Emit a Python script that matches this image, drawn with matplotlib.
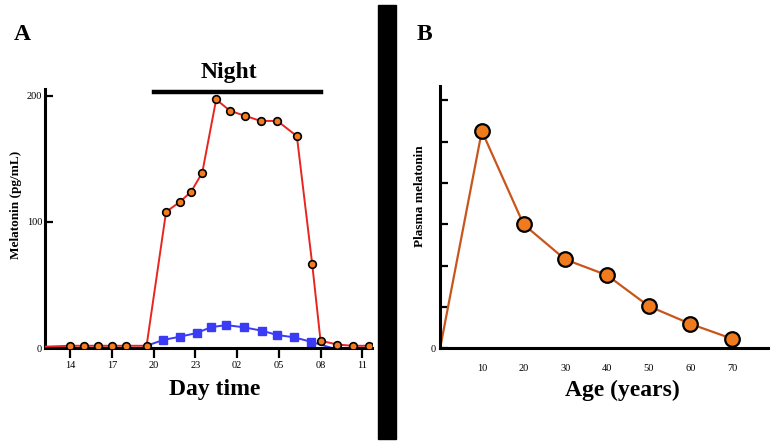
import matplotlib.pyplot as plt
import matplotlib.patches as mpatches

plt.rcParams['font.family'] = ['Liberation Serif', 'DejaVu Serif']

# DATA
# panel A: hours counted from 14:00 (24 = midnight)
red_hours = [14, 15, 16, 17, 18, 19.5, 20.9, 21.9, 22.7, 23.5, 24.5, 25.5, 26.6,
             27.7, 28.9, 30.3, 31.4, 32.0, 33.2, 34.3, 35.5]
red_values = [2, 2, 2, 2, 2, 2, 108, 116, 124, 139, 197, 188, 184,
              180, 180, 168, 67, 6, 3, 2, 2]
blue_hours = [19.5, 20.7, 21.9, 23.1, 24.1, 25.2, 26.5, 27.8, 28.9, 30.1, 31.3, 32.9]
blue_values = [2, 6.6, 9.2, 12.1, 16.6, 18.4, 16.6, 13.9, 10.5, 8.7, 5.2, 0]
hour_ticks = [14, 17, 20, 23, 26, 29, 32, 35]
hour_labels = ['14', '17', '20', '23', '02', '05', '08', '11']
night_start = 20
night_end = 32

# panel B
ages = [0, 10, 20, 30, 40, 50, 60, 70]
plasma = [0, 5.26, 3.0, 2.15, 1.77, 1.02, 0.59, 0.23]

W, H = 773, 445
fig = plt.figure(figsize=(W / 100, H / 100), dpi=100)

def fx(px):
    return px / W

def fy(py):
    return 1 - py / H

# Panel A
ax = fig.add_axes([fx(45), fy(348.3), fx(372 - 45), (348.3 - 89) / H])
ax.plot([12.2] + red_hours, [1.3] + red_values, '-o', color='#e8251f', linewidth=1.4,
        markersize=5.5, markerfacecolor='#f47b20', markeredgecolor='black',
        markeredgewidth=1.2, markevery=list(range(1, len(red_hours) + 1)), zorder=3)
ax.plot(blue_hours, blue_values, '-s', color='#3b3bf5', linewidth=1.4,
        markersize=5.5, markevery=list(range(1, len(blue_hours) - 1)), zorder=2)
ax.plot([night_start, night_end], [202.8, 202.8], color='black', linewidth=3.2,
        solid_capstyle='projecting', clip_on=False)
ax.text((night_start + night_end) / 2 - 0.55, 210, 'Night', fontsize=17,
        fontweight='bold', ha='center', va='bottom')
ax.set_xlim(12.2, 35.7)
ax.set_ylim(0, 205.3)
ax.set_xticks(hour_ticks)
ax.set_xticklabels(hour_labels)
ax.set_yticks([0, 100, 200])
ax.spines['top'].set_visible(False)
ax.spines['right'].set_visible(False)
ax.spines['left'].set_linewidth(2.2)
ax.spines['bottom'].set_linewidth(2.2)
ax.tick_params(axis='x', direction='out', length=7, width=1.6, labelsize=7.5, pad=2)
ax.tick_params(axis='y', direction='in', length=6, width=1.6, labelsize=7.5, pad=2)

# Panel B
bx = fig.add_axes([fx(440.1), fy(348.3), fx(767.7 - 440.1), (348.3 - 86) / H])
bx.plot(ages, plasma, '-o', color='#c8561c', linewidth=1.6, markersize=10.5,
        markerfacecolor='#f07a1e', markeredgecolor='black', markeredgewidth=1.6,
        markevery=list(range(1, len(ages))), clip_on=False)
bx.set_xlim(0, 78.5)
bx.set_ylim(0, 6.35)
bx.set_xticks([10, 20, 30, 40, 50, 60, 70])
bx.set_yticks(range(7))
bx.set_yticklabels(['0', '', '', '', '', '', ''])
bx.spines['top'].set_visible(False)
bx.spines['right'].set_visible(False)
bx.spines['left'].set_linewidth(2.2)
bx.spines['bottom'].set_linewidth(2.2)
bx.tick_params(axis='x', length=0, labelsize=7.5, pad=11)
bx.tick_params(axis='y', direction='in', length=6, width=1.6, labelsize=7.5, pad=3)

# Labels
fig.text(fx(16), fy(205), 'Melatonin (pg/mL)', rotation=90, fontsize=9.5,
         fontweight='bold', ha='center', va='center')
fig.text(fx(420), fy(196), 'Plasma melatonin', rotation=90, fontsize=9.5,
         fontweight='bold', ha='center', va='center')
fig.text(fx(215), fy(390), 'Day time', fontsize=17, fontweight='bold',
         ha='center', va='center')
fig.text(fx(622), fy(390), 'Age (years)', fontsize=17, fontweight='bold',
         ha='center', va='center')
fig.text(fx(22), fy(35), 'A', fontsize=17, fontweight='bold', ha='center', va='center')
fig.text(fx(424), fy(35), 'B', fontsize=17, fontweight='bold', ha='center', va='center')

# divider bar
fig.patches.append(mpatches.Rectangle((fx(378), fy(439)), fx(18), (439 - 5) / H,
                                      transform=fig.transFigure, color='black'))

plt.savefig('out.png', dpi=100)
